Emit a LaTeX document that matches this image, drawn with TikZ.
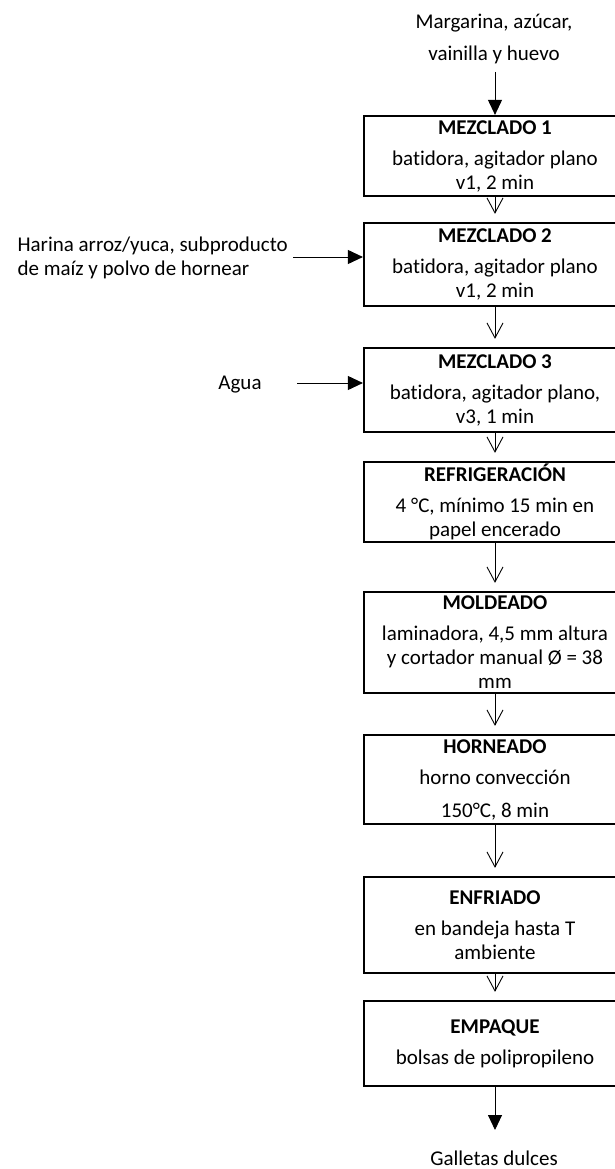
\documentclass[tikz,border=0pt]{standalone}
\usepackage{fontspec}
\setmainfont[Ligatures={NoCommon}]{Carlito}
\usetikzlibrary{arrows.meta}

\begin{document}
\begin{tikzpicture}[x=1pt, y=-1pt,
  font=\fontsize{21}{24}\selectfont,
  stage/.style={draw, line width=2.2pt, minimum width=262pt, align=center, inner sep=0pt},
  flow/.style={line width=0.9pt, -{Straight Barb[length=15pt,width=16pt]}, shorten >=8pt},
  feed/.style={line width=0.9pt, -{Triangle[length=15pt,width=14pt]}}]
  \useasboundingbox (0,0) rectangle (614,1169);
  \node[align=center] (margarina) at (494,39) {Margarina, azúcar,\\[8pt]vainilla y huevo};
  \node[align=left, anchor=west] (harina) at (14,258) {Harina arroz/yuca, subproducto\\de maíz y polvo de hornear};
  \node (agua) at (240,385) {Agua};
  \node[stage, minimum height=80pt] (mez1) at (495,156) {\textbf{MEZCLADO 1}\\[7pt]batidora, agitador plano\\v1, 2 min};
  \node[stage, minimum height=83pt] (mez2) at (495,264.5) {\textbf{MEZCLADO 2}\\[7pt]batidora, agitador plano\\v1, 2 min};
  \node[stage, minimum height=84pt] (mez3) at (495,390) {\textbf{MEZCLADO 3}\\[7pt]batidora, agitador plano,\\v3, 1 min};
  \node[stage, minimum height=80pt] (refri) at (495,502) {\textbf{REFRIGERACIÓN}\\[7pt]4 °C, mínimo 15 min en\\papel encerado};
  \node[stage, minimum height=101pt] (molde) at (495,642.5) {\textbf{MOLDEADO}\\[7pt]laminadora, 4,5 mm altura\\y cortador manual Ø = 38\\mm};
  \node[stage, minimum height=89pt] (horno) at (495,779.5) {\textbf{HORNEADO}\\[7pt]horno convección\\[9pt]150°C, 8 min};
  \node[stage, minimum height=96pt] (enfri) at (495,925) {\textbf{ENFRIADO}\\[7pt]en bandeja hasta T\\ambiente};
  \node[stage, minimum height=85pt] (empaq) at (495,1043.5) {\textbf{EMPAQUE}\\[7pt]bolsas de polipropileno};
  \node (galletas) at (494,1158) {Galletas dulces};
  \coordinate (margarinaend) at (495,72);
  \coordinate (harinaend) at (293,257);
  \coordinate (aguaend) at (297,383);
  \coordinate (galletasend) at (495,1130);
  \draw[feed] (margarinaend) -- (mez1);
  \draw[feed] (harinaend) -- (harinaend -| mez2.west);
  \draw[feed] (aguaend) -- (aguaend -| mez3.west);
  \draw[flow] (mez1) -- (mez2);
  \draw[flow] (mez2) -- (mez3);
  \draw[flow] (mez3) -- (refri);
  \draw[flow] (refri) -- (molde);
  \draw[flow] (molde) -- (horno);
  \draw[flow] (horno) -- (enfri);
  \draw[flow] (enfri) -- (empaq);
  \draw[feed] (empaq) -- (galletasend);
\end{tikzpicture}
\end{document}
